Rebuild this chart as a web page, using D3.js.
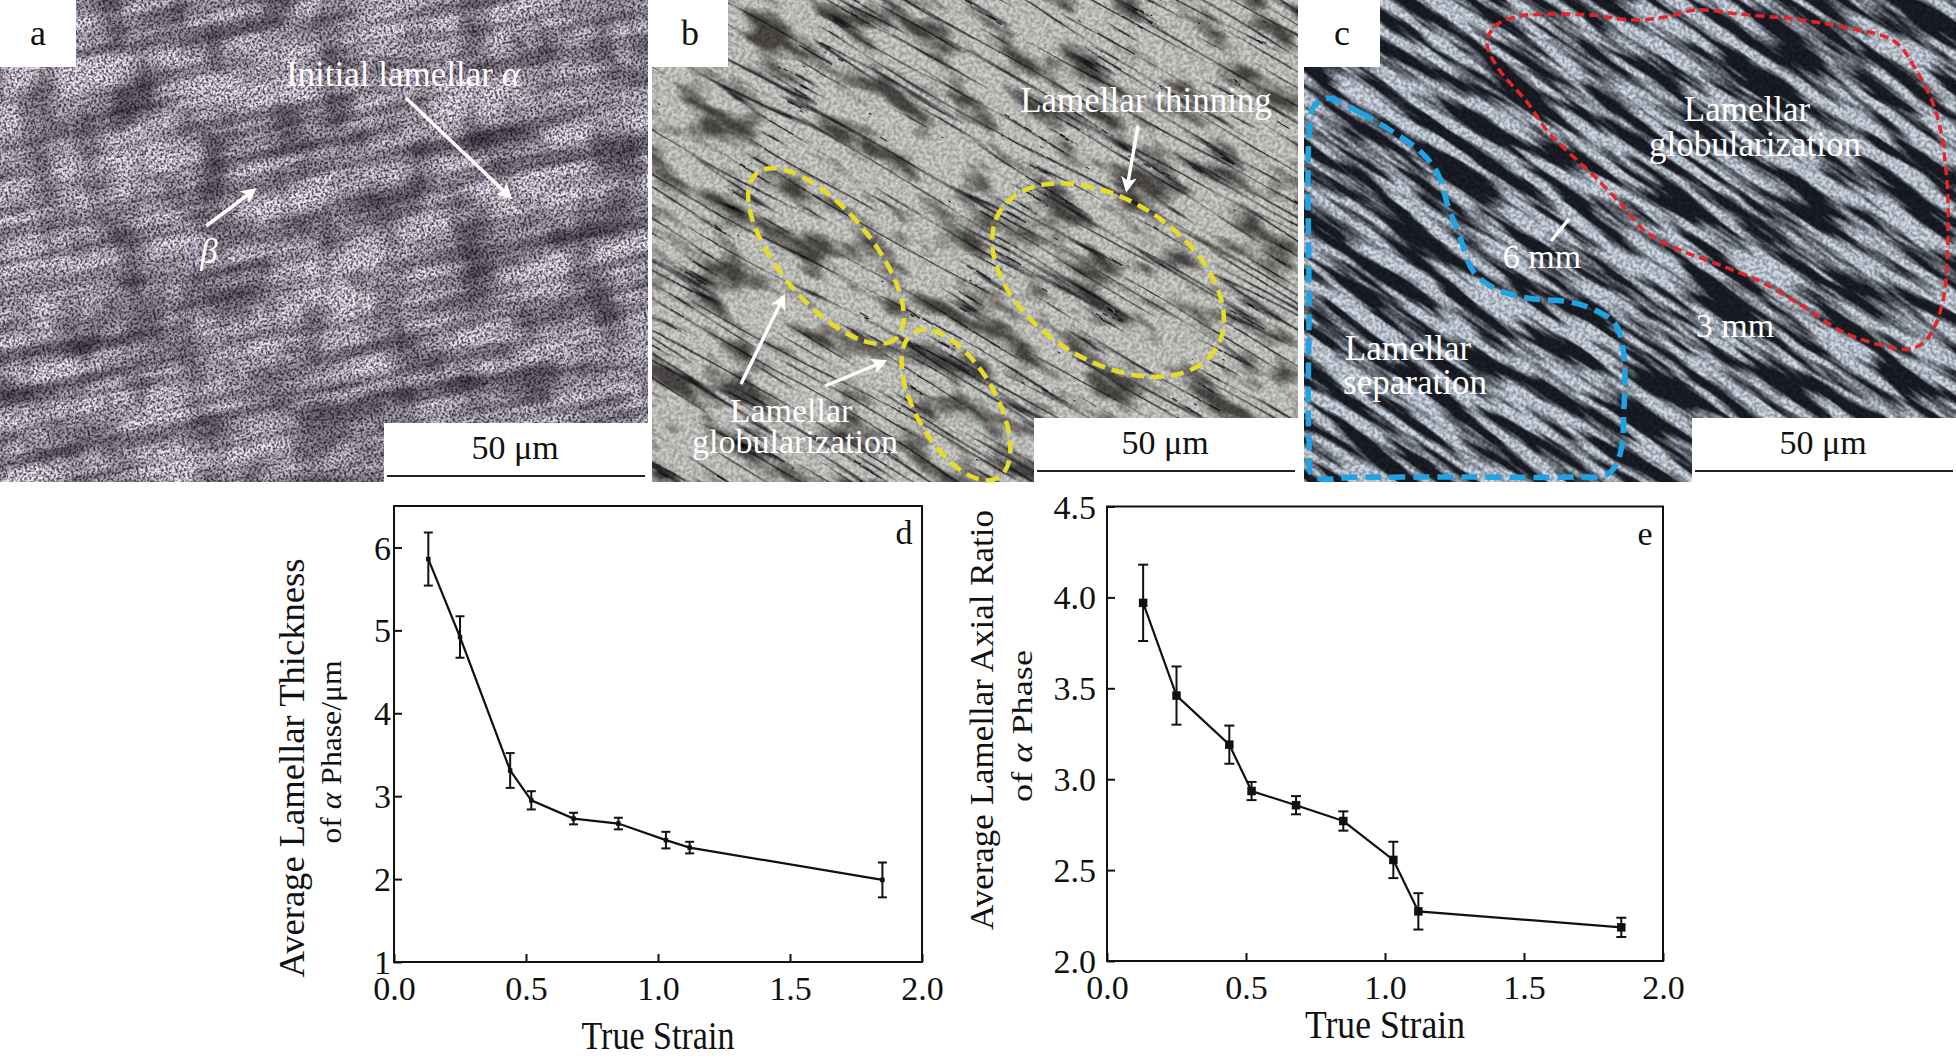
<!DOCTYPE html>
<html>
<head>
<meta charset="utf-8">
<script src="https://cdn.jsdelivr.net/npm/d3@7"></script>
<style>
  body { margin: 0; background: #fff; }
  svg { display: block; }
  text { font-family: "Liberation Serif", "Times New Roman", serif; }
</style>
</head>
<body>
<script>
// ---------- data ----------
const strain = [0.13, 0.25, 0.44, 0.52, 0.68, 0.85, 1.03, 1.12, 1.85];
const thickness = [5.86, 4.92, 3.31, 2.95, 2.73, 2.67, 2.47, 2.38, 1.99];
const thicknessErr = [0.32, 0.25, 0.21, 0.11, 0.07, 0.07, 0.10, 0.07, 0.21];
const axialRatio = [3.97, 3.46, 3.19, 2.935, 2.857, 2.77, 2.556, 2.273, 2.185];
const axialRatioErr = [0.21, 0.16, 0.105, 0.05, 0.05, 0.053, 0.10, 0.10, 0.053];

const strainTicks = [0, 0.5, 1.0, 1.5, 2.0];
const thicknessTicks = [1, 2, 3, 4, 5, 6];
const ratioTicks = [2.0, 2.5, 3.0, 3.5, 4.0, 4.5];

const W = 1956, H = 1059;

const svg = d3.select("body").append("svg")
    .attr("width", W)
    .attr("height", H);

svg.append("rect").attr("width", W).attr("height", H).attr("fill", "#fff");

const defs = svg.append("defs");

// white arrow head
defs.append("marker")
    .attr("id", "arrowW")
    .attr("viewBox", "0 0 10 10")
    .attr("refX", 7).attr("refY", 5)
    .attr("markerWidth", 4.5).attr("markerHeight", 4.5)
    .attr("orient", "auto")
    .append("path")
    .attr("d", "M0,0 L10,5 L0,10 L2.5,5 z")
    .attr("fill", "#fff");

// ---------- micrograph textures (noise filters) ----------
function noiseFilter(id, layers) {
    const f = defs.append("filter")
        .attr("id", id)
        .attr("x", 0).attr("y", 0).attr("width", 1).attr("height", 1)
        .attr("color-interpolation-filters", "sRGB");
    layers.forEach((l, i) => {
        f.append("feTurbulence")
            .attr("type", l.type)
            .attr("baseFrequency", l.freq)
            .attr("numOctaves", l.oct)
            .attr("seed", l.seed)
            .attr("result", "n" + i);
        f.append("feColorMatrix")
            .attr("in", "n" + i)
            .attr("type", "matrix")
            .attr("values", "1 0 0 0 0  1 0 0 0 0  1 0 0 0 0  0 0 0 0 1")
            .attr("result", "g" + i);
        const thr = f.append("feComponentTransfer").attr("in", "g" + i).attr("result", "t" + i);
        ["R", "G", "B"].forEach(c => thr.append("feFunc" + c)
            .attr("type", "linear").attr("slope", l.thr[0]).attr("intercept", l.thr[1]));
        const tint = f.append("feComponentTransfer").attr("in", "t" + i).attr("result", "c" + i);
        ["R", "G", "B"].forEach((c, k) => tint.append("feFunc" + c)
            .attr("type", "linear").attr("slope", l.rgb[k][0]).attr("intercept", l.rgb[k][1]));
    });
    let cur = "c0";
    for (let i = 1; i < layers.length; i++) {
        f.append("feBlend").attr("mode", "multiply")
            .attr("in", cur).attr("in2", "c" + i).attr("result", "m" + i);
        cur = "m" + i;
    }
}

noiseFilter("texA", [
    {type: "fractalNoise", freq: "0.005 0.05", oct: 3, seed: 3, thr: [2.6, -0.6],
     rgb: [[0.46, 0.5], [0.46, 0.48], [0.44, 0.54]]},
    {type: "fractalNoise", freq: "0.45", oct: 2, seed: 9, thr: [4, -1.35],
     rgb: [[0.72, 0.3], [0.72, 0.28], [0.68, 0.34]]},
    {type: "fractalNoise", freq: "0.02", oct: 3, seed: 17, thr: [3, -0.8],
     rgb: [[0.42, 0.62], [0.44, 0.6], [0.4, 0.62]]}
]);
noiseFilter("texB", [
    {type: "turbulence", freq: "0.004 0.075", oct: 2, seed: 7, thr: [8, -0.05],
     rgb: [[0.7, 0.12], [0.72, 0.12], [0.72, 0.14]]},
    {type: "fractalNoise", freq: "0.015 0.04", oct: 3, seed: 12, thr: [4, -1.05],
     rgb: [[0.62, 0.38], [0.62, 0.36], [0.6, 0.34]]},
    {type: "fractalNoise", freq: "0.3", oct: 2, seed: 4, thr: [3, -1],
     rgb: [[0.25, 0.76], [0.25, 0.76], [0.25, 0.76]]}
]);
noiseFilter("texC", [
    {type: "fractalNoise", freq: "0.01 0.08", oct: 3, seed: 21, thr: [5, -2.0],
     rgb: [[0.72, 0.11], [0.75, 0.12], [0.76, 0.16]]},
    {type: "fractalNoise", freq: "0.3", oct: 2, seed: 5, thr: [3, -1],
     rgb: [[0.35, 0.68], [0.35, 0.68], [0.35, 0.68]]}
]);

// ---------- micrograph panels ----------
const panels = [
    {key: "a", x: 0, w: 648, tex: "texA", angle: -12},
    {key: "b", x: 652, w: 646, tex: "texB", angle: 30},
    {key: "c", x: 1304, w: 652, tex: "texC", angle: 34}
];
const panelH = 482;

panels.forEach(p => {
    defs.append("clipPath").attr("id", "clip-" + p.key)
        .append("rect").attr("x", p.x).attr("y", 0).attr("width", p.w).attr("height", panelH);

    const g = svg.append("g").attr("clip-path", `url(#clip-${p.key})`);
    const cx = p.x + p.w / 2, cy = panelH / 2;
    g.append("g")
        .attr("transform", `rotate(${p.angle},${cx},${cy})`)
        .append("rect")
        .attr("x", cx - 560).attr("y", cy - 560)
        .attr("width", 1120).attr("height", 1120)
        .attr("filter", `url(#${p.tex})`);

    // panel letter box
    svg.append("rect")
        .attr("x", p.x).attr("y", 0)
        .attr("width", 76).attr("height", 67)
        .attr("fill", "#fff");
    svg.append("text")
        .attr("x", p.x + 38).attr("y", 45)
        .attr("text-anchor", "middle")
        .attr("font-size", 36)
        .attr("fill", "#111")
        .text(p.key);

    // scale bar box
    const sx = p.x + p.w - 264;
    const sTop = p.key === "a" ? 423 : 418;
    svg.append("rect")
        .attr("x", sx).attr("y", sTop)
        .attr("width", 264).attr("height", panelH - sTop)
        .attr("fill", "#fff");
    svg.append("text")
        .attr("x", sx + 131).attr("y", sTop + 36)
        .attr("text-anchor", "middle")
        .attr("font-size", 34)
        .attr("fill", "#111")
        .text("50 μm");
    svg.append("line")
        .attr("x1", sx + 3).attr("x2", sx + 261)
        .attr("y1", sTop + 53).attr("y2", sTop + 53)
        .attr("stroke", "#222").attr("stroke-width", 2);
});

// annotation helpers
function whiteText(x, y, str, size, italic) {
    return svg.append("text")
        .attr("x", x).attr("y", y)
        .attr("text-anchor", "middle")
        .attr("font-size", size || 35)
        .attr("font-style", italic ? "italic" : null)
        .attr("fill", "#fff")
        .text(str);
}
function arrow(x1, y1, x2, y2) {
    svg.append("line")
        .attr("x1", x1).attr("y1", y1).attr("x2", x2).attr("y2", y2)
        .attr("stroke", "#fff").attr("stroke-width", 3.5)
        .attr("marker-end", "url(#arrowW)");
}

// panel a
const lblA = whiteText(403, 86, "Initial lamellar ", 35);
lblA.append("tspan").attr("font-style", "italic").text("α");
arrow(406, 98, 509, 196);
whiteText(209, 263, "β", 35, true);
arrow(206, 226, 253, 191);

// panel b
whiteText(1146, 112, "Lamellar thinning", 35);
arrow(1138, 126, 1127, 188);
whiteText(791, 422, "Lamellar", 34);
whiteText(795, 453, "globularization", 34);
arrow(741, 384, 783, 298);
arrow(825, 386, 883, 362);

const ellipses = [
    {cx: 826, cy: 256, rx: 108, ry: 46, a: 50},
    {cx: 956, cy: 405, rx: 84, ry: 40, a: 60},
    {cx: 1108, cy: 280, rx: 128, ry: 80, a: 33}
];
svg.selectAll(".ell").data(ellipses).enter().append("ellipse")
    .attr("cx", 0).attr("cy", 0)
    .attr("rx", d => d.rx).attr("ry", d => d.ry)
    .attr("transform", d => `translate(${d.cx},${d.cy}) rotate(${d.a})`)
    .attr("fill", "none")
    .attr("stroke", "#e6dc2a")
    .attr("stroke-width", 4.5)
    .attr("stroke-dasharray", "13 7");

// panel c outlines
const redOutline = [[1487, 44], [1494, 27], [1515, 17], [1548, 14], [1591, 15], [1633, 20], [1666, 17],
    [1696, 10], [1738, 14], [1801, 20], [1843, 27], [1894, 41], [1915, 68], [1936, 112], [1946, 170],
    [1948, 237], [1942, 305], [1927, 339], [1910, 349], [1885, 346], [1843, 332], [1801, 305],
    [1759, 281], [1717, 264], [1675, 248], [1645, 231], [1620, 203], [1591, 173], [1565, 149],
    [1548, 132], [1527, 102], [1498, 68]];
const blueOutline = [[1325, 98], [1359, 112], [1393, 132], [1422, 153], [1439, 176], [1447, 203],
    [1460, 237], [1473, 271], [1494, 288], [1527, 298], [1570, 302], [1599, 312], [1616, 325],
    [1624, 356], [1624, 407], [1620, 454], [1608, 474], [1570, 477], [1464, 477], [1359, 477],
    [1313, 476], [1309, 441], [1309, 300], [1309, 136], [1313, 108]];

const outline = d3.line().curve(d3.curveCatmullRomClosed.alpha(0.5));
svg.append("path")
    .attr("d", outline(redOutline))
    .attr("fill", "none")
    .attr("stroke", "#e2262b")
    .attr("stroke-width", 3.5)
    .attr("stroke-dasharray", "9 5");
svg.append("path")
    .attr("d", outline(blueOutline))
    .attr("fill", "none")
    .attr("stroke", "#1fa3e2")
    .attr("stroke-width", 5.5)
    .attr("stroke-dasharray", "16 8");

whiteText(1747, 121, "Lamellar", 35);
whiteText(1755, 156, "globularization", 35);
whiteText(1408, 360, "Lamellar", 35);
whiteText(1415, 394, "separation", 35);
whiteText(1542, 268, "6 mm", 34);
whiteText(1735, 337, "3 mm", 34);
svg.append("line")
    .attr("x1", 1551).attr("y1", 241).attr("x2", 1569).attr("y2", 219)
    .attr("stroke", "#fff").attr("stroke-width", 3.5);

// ---------- line charts d and e ----------
function drawChart(cfg) {
    const x = d3.scaleLinear().domain([0, 2]).range([cfg.left, cfg.right]);
    const y = d3.scaleLinear().domain(cfg.yDomain).range([cfg.bottom, cfg.top]);
    const g = svg.append("g");

    // axes with inward ticks
    const xAxis = g.append("g")
        .attr("transform", `translate(0,${cfg.bottom})`)
        .call(d3.axisBottom(x).tickValues(strainTicks).tickSize(-8).tickSizeOuter(0)
            .tickFormat(d3.format(".1f")));
    xAxis.selectAll("text")
        .attr("y", 38).attr("dy", null)
        .attr("font-size", 34)
        .attr("font-family", "Liberation Serif, serif")
        .attr("fill", "#111");

    const yAxis = g.append("g")
        .attr("transform", `translate(${cfg.left},0)`)
        .call(d3.axisLeft(y).tickValues(cfg.yTicks).tickSize(-8).tickSizeOuter(0)
            .tickFormat(cfg.yFormat));
    yAxis.selectAll("text")
        .attr("x", -cfg.labelGap).attr("dy", "0.34em")
        .attr("font-size", 34)
        .attr("font-family", "Liberation Serif, serif")
        .attr("fill", "#111");
    g.selectAll(".tick line").attr("stroke", "#111").attr("stroke-width", 2);
    g.selectAll(".domain").remove();

    // frame
    g.append("rect")
        .attr("x", cfg.left).attr("y", cfg.top)
        .attr("width", cfg.right - cfg.left)
        .attr("height", cfg.bottom - cfg.top)
        .attr("fill", "none")
        .attr("stroke", "#111")
        .attr("stroke-width", 2);

    const pts = strain.map((s, i) => ({s, v: cfg.values[i], e: cfg.errors[i]}));

    // error bars
    const cap = cfg.cap / 2;
    pts.forEach(d => {
        const px = x(d.s);
        g.append("line")
            .attr("x1", px).attr("x2", px)
            .attr("y1", y(d.v + d.e)).attr("y2", y(d.v - d.e))
            .attr("stroke", "#111").attr("stroke-width", 2);
        [d.v + d.e, d.v - d.e].forEach(v => g.append("line")
            .attr("x1", px - cap).attr("x2", px + cap)
            .attr("y1", y(v)).attr("y2", y(v))
            .attr("stroke", "#111").attr("stroke-width", 2));
    });

    // connecting line
    const line = d3.line().x(d => x(d.s)).y(d => y(d.v));
    g.append("path")
        .datum(pts)
        .attr("d", line)
        .attr("fill", "none")
        .attr("stroke", "#111")
        .attr("stroke-width", 2.2);

    // square markers
    g.selectAll(".pt").data(pts).enter().append("rect")
        .attr("x", d => x(d.s) - cfg.marker / 2)
        .attr("y", d => y(d.v) - cfg.marker / 2)
        .attr("width", cfg.marker).attr("height", cfg.marker)
        .attr("fill", "#111");

    // panel letter
    g.append("text")
        .attr("x", cfg.right - 18).attr("y", cfg.top + 38)
        .attr("text-anchor", "middle")
        .attr("font-size", 34)
        .attr("fill", "#111")
        .text(cfg.letter);

    // x-axis title
    g.append("text")
        .attr("x", (cfg.left + cfg.right) / 2).attr("y", cfg.xTitleY)
        .attr("text-anchor", "middle")
        .attr("font-size", 39)
        .attr("textLength", cfg.xTitleLen)
        .attr("lengthAdjust", "spacingAndGlyphs")
        .attr("fill", "#111")
        .text("True Strain");

    // y-axis title, two lines
    cfg.yTitle.forEach(t => {
        const tx = g.append("text")
            .attr("transform", `translate(${t.x},${t.cy}) rotate(-90)`)
            .attr("text-anchor", "middle")
            .attr("font-size", t.size)
            .attr("textLength", t.len)
            .attr("lengthAdjust", "spacingAndGlyphs")
            .attr("fill", "#111");
        t.parts.forEach(p => tx.append("tspan")
            .attr("font-style", p.italic ? "italic" : null)
            .text(p.text));
    });
}

drawChart({
    left: 394, right: 922, top: 506, bottom: 962,
    yDomain: [1, 6.5], yTicks: thicknessTicks, yFormat: d3.format("d"),
    values: thickness, errors: thicknessErr,
    labelGap: 3, cap: 9, marker: 4.5, letter: "d",
    xTitleY: 1049, xTitleLen: 153,
    yTitle: [
        {x: 304, cy: 768, size: 35, len: 419,
         parts: [{text: "Average Lamellar Thickness"}]},
        {x: 341, cy: 752, size: 29, len: 183,
         parts: [{text: "of "}, {text: "α", italic: true}, {text: " Phase/μm"}]}
    ]
});

drawChart({
    left: 1107, right: 1663, top: 506.5, bottom: 961,
    yDomain: [2, 4.5], yTicks: ratioTicks, yFormat: d3.format(".1f"),
    values: axialRatio, errors: axialRatioErr,
    labelGap: 11, cap: 10, marker: 8.5, letter: "e",
    xTitleY: 1038, xTitleLen: 160,
    yTitle: [
        {x: 993, cy: 720, size: 34, len: 420,
         parts: [{text: "Average Lamellar Axial Ratio"}]},
        {x: 1032, cy: 726, size: 29, len: 152,
         parts: [{text: "of "}, {text: "α", italic: true}, {text: " Phase"}]}
    ]
});
</script>
</body>
</html>
